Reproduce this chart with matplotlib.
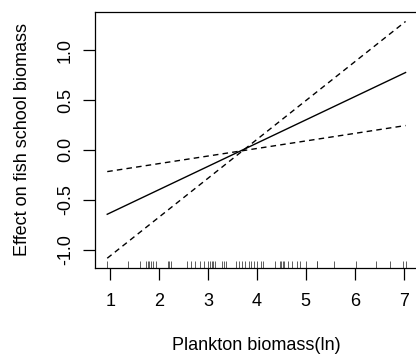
import matplotlib
matplotlib.use("Agg")
import matplotlib.pyplot as plt
import matplotlib.transforms as mtransforms

plt.rcParams['font.family'] = ['Liberation Sans', 'DejaVu Sans']

# Data
x_fit = [0.94, 7.04]
effect = [-0.646, 0.776]
bound_a = [-0.218, 0.244]
bound_b = [-1.087, 1.288]

rug_x = [0.94, 1.37, 1.62, 1.74, 1.77, 1.80, 1.83, 1.88, 1.94, 2.18, 2.21, 2.24,
         2.57, 2.65, 2.73, 2.84, 2.91, 3.00, 3.04, 3.08, 3.11, 3.14, 3.29, 3.33,
         3.37, 3.58, 3.63, 3.69, 3.75, 3.84, 3.88, 3.94, 4.01, 4.08, 4.12, 4.38,
         4.48, 4.50, 4.53, 4.56, 4.63, 4.71, 4.81, 4.89, 5.00, 5.22, 5.23, 5.57,
         6.03, 6.44, 6.73, 6.99, 7.04]

x_ticks = [1, 2, 3, 4, 5, 6, 7]
x_ticklabels = ["1", "2", "3", "4", "5", "6", "7"]
y_ticks = [-1.0, -0.5, 0.0, 0.5, 1.0]
y_ticklabels = ["-1.0", "-0.5", "0.0", "0.5", "1.0"]

fig = plt.figure(figsize=(4.16, 3.56), dpi=100)
ax = fig.add_axes([95.3 / 416, 1 - 267.7 / 356, (417.5 - 95.3) / 416, (267.7 - 12) / 356])

ax.plot(x_fit, effect, color='black', lw=1.0)
ax.plot(x_fit, bound_a, color='black', lw=1.0, dashes=(4, 3))
ax.plot(x_fit, bound_b, color='black', lw=1.0, dashes=(4, 3))

trans = mtransforms.blended_transform_factory(ax.transData, ax.transAxes)
ax.vlines(rug_x, 0, 0.028, transform=trans, color='#444444', lw=0.6)

ax.set_xlim(0.696, 7.284)
ax.set_ylim(-1.182, 1.383)

ax.set_xticks(x_ticks)
ax.set_xticklabels(x_ticklabels)
ax.set_yticks(y_ticks)
ax.set_yticklabels(y_ticklabels, rotation=90, va='center')

ax.tick_params(axis='both', direction='out', length=8.3, width=0.9, labelsize=13, colors='black')
ax.tick_params(axis='x', pad=10)
ax.tick_params(axis='y', pad=7)

for s in ax.spines.values():
    s.set_color('black')
    s.set_linewidth(0.9)

ax.set_xlabel("Plankton biomass(ln)", fontsize=13, labelpad=19)
ax.set_ylabel("Effect on fish school biomass", fontsize=13, labelpad=19)

fig.savefig("out.png", dpi=100)
